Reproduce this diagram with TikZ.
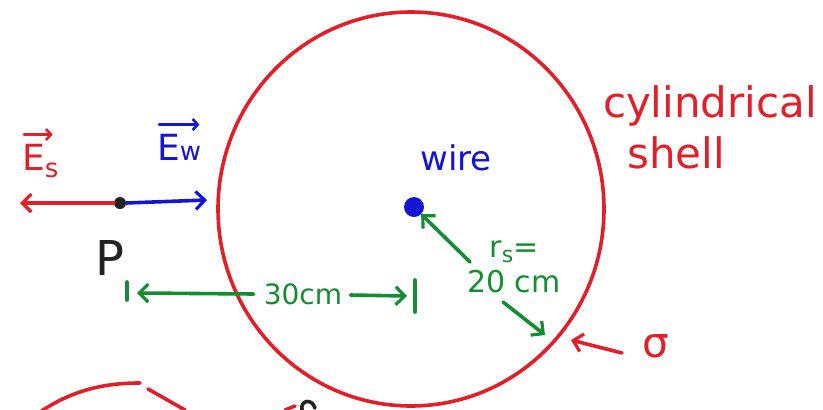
\documentclass[tikz,border=0pt]{standalone}
\usepackage{fontspec}
\setmainfont{DejaVu Sans}
\usetikzlibrary{arrows.meta}
\definecolor{hred}{RGB}{226,30,40}
\definecolor{hblue}{RGB}{20,20,210}
\definecolor{hgreen}{RGB}{20,140,50}
\definecolor{hblack}{RGB}{35,35,35}
\tikzset{
  pen/.style={line width=3.6pt, line cap=round, line join=round},
  tip/.style={-{Straight Barb[length=9pt,width=18pt,line width=3.2pt]}},
  smalltip/.style={-{Straight Barb[length=5pt,width=11pt,line width=2.6pt]}},
  lbl/.style={inner sep=0pt, font=\fontsize{#1}{#1}\selectfont},
  lbl/.default=28,
}
\begin{document}
\begin{tikzpicture}[x=1pt,y=-1pt]
\useasboundingbox (0,0) rectangle (823,410);
% shell
\draw[pen,hred] (411,209) ellipse [x radius=193, y radius=197];
% field arrows at P
\node[circle,fill=hblack,minimum size=12pt,inner sep=0pt] (P) at (120,203) {};
\coordinate (EsEnd) at (20,203);
\coordinate (EwEnd) at (207,200);
\draw[pen,hred,tip] (P.west) -- (EsEnd);
\draw[pen,hblue,tip] (P.east) -- (EwEnd);
\node[lbl=36,text=hred,anchor=base west] (Es) at (22,170) {E\raisebox{-7pt}{\fontsize{26}{26}\selectfont s}};
\draw[line width=2.6pt,line cap=round,hred,smalltip] ([xshift=2pt,yshift=9pt]Es.north west) -- ([xshift=-6pt,yshift=9pt]Es.north east);
\node[lbl=36,text=hblue,anchor=base west] (Ew) at (157,160) {E\fontsize{26}{26}\selectfont w};
\draw[line width=2.6pt,line cap=round,hblue,smalltip] ([xshift=2pt,yshift=9pt]Ew.north west) -- ([xshift=-2pt,yshift=9pt]Ew.north east);
\node[lbl=48,text=hblack] (Plbl) at (110,258) {P};
% distance 30 cm
\coordinate (t1a) at (127,282); \coordinate (t1b) at (127,300);
\coordinate (t2a) at (415,280); \coordinate (t2b) at (415,312);
\draw[pen,hgreen] (t1a) -- (t1b);
\draw[pen,hgreen] (t2a) -- (t2b);
\node[lbl=28,text=hgreen] (d) at (303,294) {30cm};
\coordinate (dL) at (137,293); \coordinate (dR) at (407,296);
\draw[pen,hgreen,tip] (d.west) ++(-10,0) -- (dL);
\draw[pen,hgreen,tip] (d.east) ++(8,1) -- (dR);
% wire
\node[circle,fill=hblue,minimum size=20pt,inner sep=0pt] (W) at (414,207) {};
\node[lbl=34,text=hblue] (wl) at (456,158) {wire};
% radius label
\node[lbl=30,text=hgreen] (rs) at (514,252) {r\raisebox{-5pt}{\fontsize{22}{22}\selectfont s}=};
\node[lbl=30,text=hgreen] (rs2) at (514,282) {20 cm};
\coordinate (rsA) at (470,262);
\coordinate (rsB) at (503,302);
\coordinate (shellPt) at (545,335);
\draw[pen,hgreen,tip] (rsA) -- (W.south east);
\draw[pen,hgreen,tip] (rsB) -- (shellPt);
% labels right
\node[lbl=42,text=hred] (cyl) at (710,106) {cylindrical};
\node[lbl=42,text=hred] (shell) at (676,153) {shell};
\node[lbl=42,text=hred] (sig) at (656,346) {σ};
\coordinate (sigTip) at (571,340);
\draw[pen,hred,tip] (622,353) -- (sigTip);
% cut-off marks at bottom
\draw[pen,hred] (40,412) .. controls (70,392) and (100,383) .. (140,383);
\draw[pen,hred] (148,389) -- (185,410);
\draw[pen,hred] (285,410) -- (295,406);
\draw[pen,hblack] (302,410) .. controls (300,400) and (312,398) .. (315,408);
\end{tikzpicture}
\end{document}
